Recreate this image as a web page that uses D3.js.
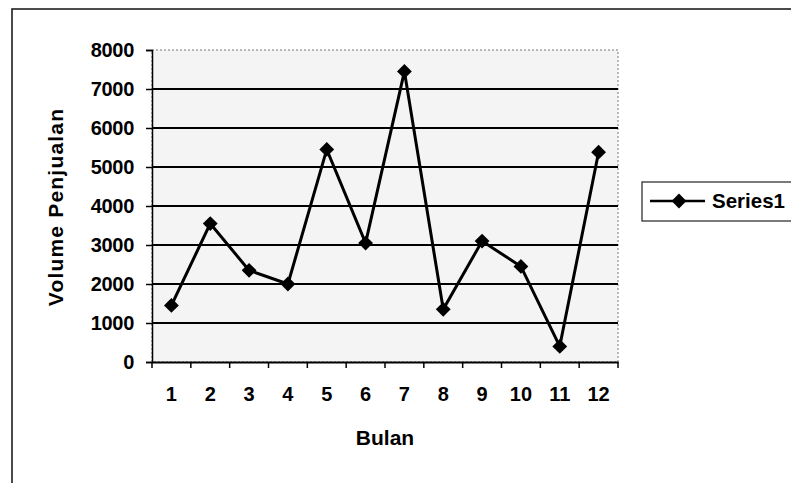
<!DOCTYPE html>
<html>
<head>
<meta charset="utf-8">
<script src="https://cdn.jsdelivr.net/npm/d3@7"></script>
<style>
  body { margin: 0; background: #fff; }
  text { font-family: "Liberation Sans", Arial, sans-serif; font-weight: bold; fill: #000; }
</style>
</head>
<body>
<svg id="svg"></svg>
<script>
// Data
const months = ["1", "2", "3", "4", "5", "6", "7", "8", "9", "10", "11", "12"];
const sales = [1450, 3550, 2350, 2000, 5450, 3050, 7450, 1350, 3100, 2450, 400, 5380];
const yTicks = [0, 1000, 2000, 3000, 4000, 5000, 6000, 7000, 8000];
const seriesName = "Series1";

const width = 791;
const height = 483;
const margin = { left: 152, top: 50, right: 173, bottom: 121 };

const svg = d3.select("#svg")
  .attr("width", width)
  .attr("height", height);

// outer chart frame (runs off the bottom/right edge in the scan)
svg.append("rect")
  .attr("x", 12).attr("y", 9)
  .attr("width", 800).attr("height", 500)
  .attr("fill", "none")
  .attr("stroke", "#111")
  .attr("stroke-width", 1.5);

const x = d3.scaleBand()
  .domain(months)
  .range([margin.left, width - margin.right]);

const y = d3.scaleLinear()
  .domain([0, 8000])
  .range([height - margin.bottom, margin.top]);

// plot area background
svg.append("rect")
  .attr("x", margin.left).attr("y", margin.top)
  .attr("width", x.range()[1] - margin.left)
  .attr("height", y(0) - margin.top)
  .attr("fill", "#f4f4f4")
  .attr("stroke", "#777")
  .attr("stroke-dasharray", "2,2");

// horizontal gridlines
svg.append("g")
  .selectAll("line")
  .data(yTicks.filter(d => d > 0 && d < 8000))
  .enter()
  .append("line")
  .attr("x1", margin.left)
  .attr("x2", x.range()[1])
  .attr("y1", d => y(d))
  .attr("y2", d => y(d))
  .attr("stroke", "#000")
  .attr("stroke-width", 2);

// y axis
const yAxis = svg.append("g")
  .attr("transform", `translate(${margin.left},0)`)
  .call(d3.axisLeft(y).tickValues(yTicks).tickFormat(d3.format("d")).tickSize(6).tickPadding(12));
yAxis.select(".domain").attr("stroke-width", 1.5);
yAxis.selectAll(".tick line").attr("stroke-width", 1.5);
yAxis.selectAll("text")
  .attr("font-size", 20)
  .attr("letter-spacing", -0.3)
  .style("font-family", "'Liberation Sans', Arial, sans-serif");

// x axis, ticks between categories
const xAxis = svg.append("g")
  .attr("transform", `translate(0,${y(0)})`)
  .call(d3.axisBottom(x).tickSize(0).tickPadding(25));
xAxis.select(".domain").attr("stroke-width", 2);
xAxis.selectAll("text")
  .attr("font-size", 20)
  .style("font-family", "'Liberation Sans', Arial, sans-serif");

svg.append("g")
  .selectAll("line")
  .data(months.concat(["end"]))
  .enter()
  .append("line")
  .attr("x1", (d, i) => margin.left + i * x.step())
  .attr("x2", (d, i) => margin.left + i * x.step())
  .attr("y1", y(0))
  .attr("y2", y(0) + 6)
  .attr("stroke", "#000")
  .attr("stroke-width", 1.5);

// axis titles
svg.append("text")
  .attr("transform", `translate(63, ${(margin.top + y(0)) / 2 + 1}) rotate(-90)`)
  .attr("text-anchor", "middle")
  .attr("font-size", 21)
  .attr("letter-spacing", 1.2)
  .text("Volume Penjualan");

svg.append("text")
  .attr("x", (margin.left + x.range()[1]) / 2)
  .attr("y", 445)
  .attr("text-anchor", "middle")
  .attr("font-size", 21)
  .text("Bulan");

// series line
const line = d3.line()
  .x((d, i) => x(months[i]) + x.bandwidth() / 2)
  .y(d => y(d));

svg.append("path")
  .datum(sales)
  .attr("d", line)
  .attr("fill", "none")
  .attr("stroke", "#000")
  .attr("stroke-width", 3);

const diamond = d3.symbol().type(d3.symbolDiamond2).size(140);

svg.append("g")
  .selectAll("path")
  .data(sales)
  .enter()
  .append("path")
  .attr("d", diamond)
  .attr("transform", (d, i) => `translate(${x(months[i]) + x.bandwidth() / 2},${y(d)})`)
  .attr("fill", "#000");

// legend
const legend = svg.append("g");
legend.append("rect")
  .attr("x", 642).attr("y", 182)
  .attr("width", 170).attr("height", 39)
  .attr("fill", "#fff")
  .attr("stroke", "#222")
  .attr("stroke-width", 1.2);
legend.append("line")
  .attr("x1", 650).attr("x2", 705)
  .attr("y1", 201).attr("y2", 201)
  .attr("stroke", "#000")
  .attr("stroke-width", 2.5);
legend.append("path")
  .attr("d", diamond)
  .attr("transform", "translate(679,201)")
  .attr("fill", "#000");
legend.append("text")
  .attr("x", 712)
  .attr("y", 208)
  .attr("font-size", 20.5)
  .text(seriesName);
</script>
</body>
</html>
